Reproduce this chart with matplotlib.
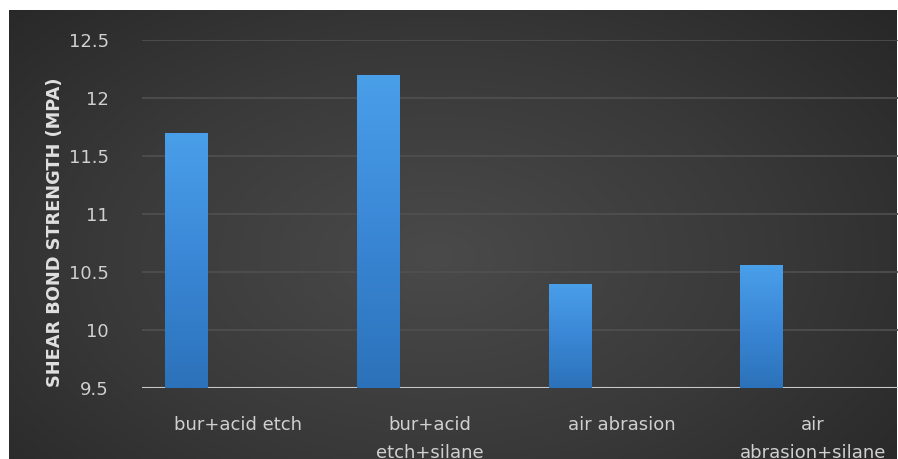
import numpy as np
import matplotlib
matplotlib.use("Agg")
import matplotlib.pyplot as plt
from matplotlib.colors import LinearSegmentedColormap

categories = ["bur+acid etch", "bur+acid\netch+silane", "air abrasion", "air\nabrasion+silane"]
values = [11.7, 12.2, 10.4, 10.56]
yticks = [9.5, 10, 10.5, 11, 11.5, 12, 12.5]
ylabel = "SHEAR BOND STRENGTH (MPA)"

W, H = 898, 459
fig = plt.figure(figsize=(W / 100, H / 100), dpi=100, facecolor="white")

# dark radial background
bg = fig.add_axes([9 / W, 0, (897 - 9) / W, (459 - 10) / H])
bg.set_axis_off()
nx, ny = 400, 200
xx, yy = np.meshgrid(np.linspace(0, 1, nx), np.linspace(0, 1, ny))
r = np.sqrt(((xx - 0.48) / 0.75) ** 2 + ((yy - 0.45) / 0.9) ** 2)
r = np.clip(r, 0, 1)
bgcmap = LinearSegmentedColormap.from_list("bg", ["#4a4a4a", "#393939", "#242424"])
bg.imshow(r, cmap=bgcmap, aspect="auto", extent=[0, 1, 0, 1], origin="lower", vmin=0, vmax=1)
bg.set_xlim(0, 1)
bg.set_ylim(0, 1)

ax = fig.add_axes([142 / W, (459 - 388) / H, 767 / W, 348 / H])
ax.set_facecolor("none")
x = np.arange(len(categories))
offset = -0.27
width = 0.22
bars = ax.bar(x + offset, [v - 9.5 for v in values], bottom=9.5, width=width,
              color="#3b88d6", edgecolor="#1f4a78", linewidth=0.8, zorder=3)

grad = np.linspace(0, 1, 100).reshape(-1, 1)
barcmap = LinearSegmentedColormap.from_list("bar", ["#2c72ba", "#3a87d6", "#4a9fe9"])
for b in bars:
    x0, y0 = b.get_x(), b.get_y()
    x1, y1 = x0 + b.get_width(), y0 + b.get_height()
    im = ax.imshow(grad, cmap=barcmap, aspect="auto", extent=[x0, x1, y0, y1],
                   origin="lower", zorder=4)
    im.set_clip_path(b)

ax.set_xlim(-0.5, len(categories) - 0.5)
ax.set_ylim(9.5, 12.5)
ax.set_yticks(yticks)
ax.set_yticklabels([f"{t:g}" for t in yticks])
ax.set_xticks(x)
ax.set_xticklabels(categories, linespacing=1.7)
ax.tick_params(axis="both", length=0, colors="#d0d0d0", labelsize=13)
ax.tick_params(axis="y", pad=24)
ax.tick_params(axis="x", pad=20)
for t in ax.get_xticklabels():
    t.set_verticalalignment("top")
ax.grid(axis="y", color="#505050", linewidth=1.2, zorder=1)
ax.set_axisbelow(True)
for s in ax.spines.values():
    s.set_visible(False)
ax.axhline(9.5, color="#c8c8c8", linewidth=1.5, zorder=2)

fig.text(55 / W, 1 - 232 / H, ylabel, rotation=90, ha="center", va="center",
         color="#e0e0e0", fontsize=12.8, fontweight="bold")

fig.savefig("out.png", dpi=100, facecolor="white")
